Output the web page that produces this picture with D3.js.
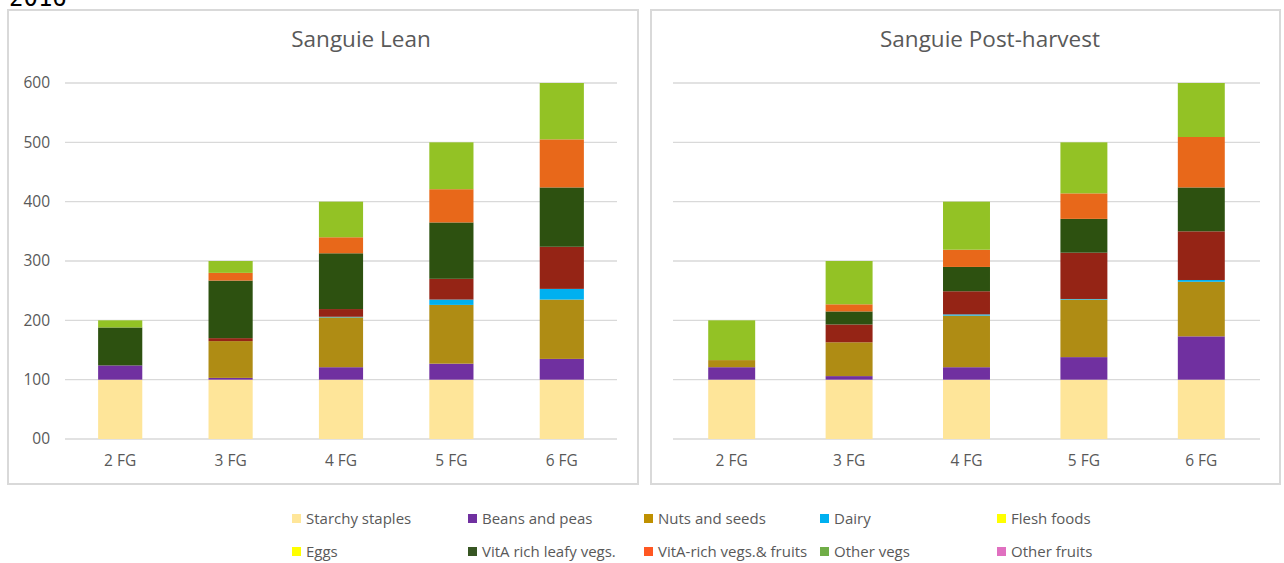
<!DOCTYPE html>
<meta charset="utf-8">
<html lang="en">
  <head>
    <style>
      body { margin: 0; background-color: #fff; }
      text { font-family: "Open Sans", "Noto Sans", sans-serif; fill: #595959; }
      .frame { fill: #fff; stroke: #d9d9d9; stroke-width: 2px; }
      .grid line { stroke: #d9d9d9; stroke-width: 1.3px; }
      .title { font-size: 22.5px; }
      .tick-label { font-size: 15.5px; }
      .legend text { font-size: 15px; }
    </style>
  </head>
  <body>
    <script src="https://cdn.jsdelivr.net/npm/d3@7"></script>
    <svg></svg>
    <script>

      var categories = ["2 FG", "3 FG", "4 FG", "5 FG", "6 FG"];

      var seriesNames = ["Starchy staples", "Beans and peas", "Nuts and seeds", "Dairy", "Flesh foods",
                         "Eggs", "VitA rich leafy vegs.", "VitA-rich vegs.& fruits", "Other vegs", "Other fruits"];

      // colours of the bars, and the (different) colours shown in the legend
      var barColors = ["#fee599", "#7030a0", "#af8c14", "#00b0f0", "#952415",
                       "#ffff00", "#2d5110", "#e8681a", "#93c225", "#e070c0"];
      var legendColors = ["#ffe699", "#7030a0", "#bf9000", "#00b0f0", "#ffff00",
                          "#ffff00", "#375623", "#ff5722", "#70ad47", "#e070c0"];

      // one row per category, one value per series (same order as seriesNames)
      var leanValues = [
        [100, 24,   0,  0,  0, 0,  64,  0, 12, 0],
        [100,  3,  62,  0,  5, 0,  97, 13, 20, 0],
        [100, 21,  84,  1, 13, 0,  94, 27, 60, 0],
        [100, 27,  99,  9, 35, 0,  95, 56, 79, 0],
        [100, 35, 100, 18, 71, 0, 100, 81, 95, 0]
      ];

      var postValues = [
        [100, 21, 12, 0,  0, 0,  0,  0, 67, 0],
        [100,  6, 57, 0, 30, 0, 22, 12, 73, 0],
        [100, 21, 87, 2, 39, 0, 41, 29, 81, 0],
        [100, 38, 97, 1, 78, 0, 57, 43, 86, 0],
        [100, 73, 92, 3, 82, 0, 74, 85, 91, 0]
      ];

      var yTicks = [0, 100, 200, 300, 400, 500, 600];

      var width = 1284, height = 563;

      var svg = d3.select("svg")
        .attr("width", width)
        .attr("height", height);

      // cut-off label above the panels
      svg.append("text")
        .attr("x", 9)
        .attr("y", 6)
        .style("font-family", "'DejaVu Sans Mono', monospace")
        .style("font-size", "24px")
        .style("fill", "#000")
        .text("2016");

      var panels = [
        { title: "Sanguie Lean", titleX: 361, values: leanValues, box: [8, 10, 638, 484], plot: [65, 617], yAxis: true },
        { title: "Sanguie Post-harvest", titleX: 990, values: postValues, box: [651, 10, 1280, 484], plot: [673, 1260], yAxis: false }
      ];

      var y = d3.scaleLinear().domain([0, 600]).range([439, 83]);

      panels.forEach(function(p) {
        var g = svg.append("g");

        g.append("rect")
          .attr("class", "frame")
          .attr("x", p.box[0])
          .attr("y", p.box[1])
          .attr("width", p.box[2] - p.box[0])
          .attr("height", p.box[3] - p.box[1]);

        g.append("text")
          .attr("class", "title")
          .attr("x", p.titleX)
          .attr("y", 47)
          .attr("text-anchor", "middle")
          .text(p.title);

        var x = d3.scaleBand()
          .domain(categories)
          .range(p.plot)
          .paddingInner(0.6)
          .paddingOuter(0.3);

        // gridlines
        g.append("g")
          .attr("class", "grid")
          .selectAll("line")
          .data(yTicks)
          .enter()
          .append("line")
          .attr("x1", p.plot[0])
          .attr("x2", p.plot[1])
          .attr("y1", function(d) { return y(d); })
          .attr("y2", function(d) { return y(d); });

        // stacked bars
        var rows = p.values.map(function(v, i) {
          var o = { cat: categories[i] };
          seriesNames.forEach(function(s, j) { o[s] = v[j]; });
          return o;
        });
        var stacked = d3.stack().keys(seriesNames)(rows);

        g.append("g")
          .selectAll("g")
          .data(stacked)
          .enter()
          .append("g")
          .attr("fill", function(d, i) { return barColors[i]; })
          .selectAll("rect")
          .data(function(d) { return d.filter(function(e) { return e[1] > e[0]; }); })
          .enter()
          .append("rect")
          .attr("x", function(d) { return x(d.data.cat); })
          .attr("width", x.bandwidth())
          .attr("y", function(d) { return y(d[1]); })
          .attr("height", function(d) { return y(d[0]) - y(d[1]); });

        // x labels
        var xAxis = g.append("g")
          .attr("transform", "translate(0," + y(0) + ")")
          .call(d3.axisBottom(x).tickSize(0).tickPadding(16));
        xAxis.select(".domain").remove();
        xAxis.selectAll("text").attr("class", "tick-label").attr("fill", null);

        if (p.yAxis) {
          var yAxis = g.append("g")
            .attr("transform", "translate(50,0)")
            .call(d3.axisLeft(y).tickValues(yTicks).tickFormat(d3.format("02d")).tickSize(0).tickPadding(0));
          yAxis.select(".domain").remove();
          yAxis.selectAll("text").attr("class", "tick-label").attr("fill", null);
        }
      });

      // legend
      var legendX = [292, 468, 644, 820, 997];
      var legendY = [519, 552];

      var legend = svg.append("g").attr("class", "legend")
        .selectAll("g")
        .data(seriesNames)
        .enter()
        .append("g")
        .attr("transform", function(d, i) {
          return "translate(" + legendX[i % 5] + "," + legendY[Math.floor(i / 5)] + ")";
        });

      legend.append("rect")
        .attr("x", 0)
        .attr("y", -5)
        .attr("width", 9)
        .attr("height", 9)
        .attr("fill", function(d, i) { return legendColors[i]; });

      legend.append("text")
        .attr("x", 14)
        .attr("y", 5)
        .text(function(d) { return d; });

    </script>
  </body>
</html>
